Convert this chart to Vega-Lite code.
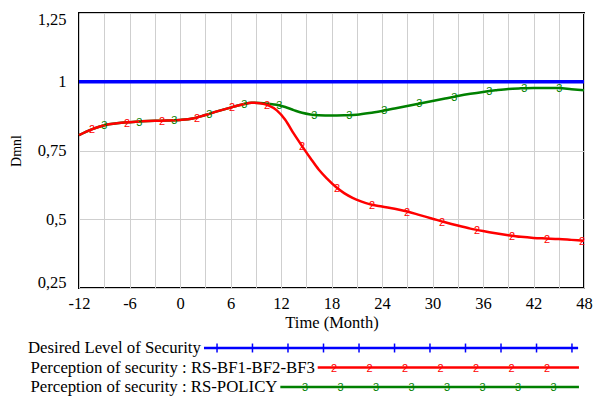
{
  "$schema": "https://vega.github.io/schema/vega-lite/v6.json",
  "padding": {"left": 8, "top": 10, "right": 2, "bottom": 0},
  "bounds": "flush",
  "spacing": 60,
  "config": {
    "font": "Liberation Serif",
    "view": {"stroke": "black", "strokeWidth": 2},
    "axis": {"labelColor": "black", "titleColor": "black", "titleFontWeight": "normal", "domain": false, "ticks": false, "gridColor": "#cfcfcf", "gridWidth": 1, "gridOpacity": 1}
  },
  "datasets": {
    "curves": [
      {"series": "Desired Level of Security", "month": -12, "value": 1.0},
      {"series": "Desired Level of Security", "month": 48, "value": 1.0},
      {"series": "Perception of security : RS-BF1-BF2-BF3", "month": -12, "value": 0.806},
      {"series": "Perception of security : RS-BF1-BF2-BF3", "month": -10.5, "value": 0.827},
      {"series": "Perception of security : RS-BF1-BF2-BF3", "month": -9, "value": 0.842},
      {"series": "Perception of security : RS-BF1-BF2-BF3", "month": -7.5, "value": 0.849},
      {"series": "Perception of security : RS-BF1-BF2-BF3", "month": -6, "value": 0.853},
      {"series": "Perception of security : RS-BF1-BF2-BF3", "month": -4.5, "value": 0.856},
      {"series": "Perception of security : RS-BF1-BF2-BF3", "month": -3, "value": 0.858},
      {"series": "Perception of security : RS-BF1-BF2-BF3", "month": -1.5, "value": 0.859},
      {"series": "Perception of security : RS-BF1-BF2-BF3", "month": 0, "value": 0.861},
      {"series": "Perception of security : RS-BF1-BF2-BF3", "month": 1.5, "value": 0.866},
      {"series": "Perception of security : RS-BF1-BF2-BF3", "month": 3, "value": 0.879},
      {"series": "Perception of security : RS-BF1-BF2-BF3", "month": 4.5, "value": 0.893},
      {"series": "Perception of security : RS-BF1-BF2-BF3", "month": 6, "value": 0.906},
      {"series": "Perception of security : RS-BF1-BF2-BF3", "month": 7.5, "value": 0.918},
      {"series": "Perception of security : RS-BF1-BF2-BF3", "month": 8.5, "value": 0.924},
      {"series": "Perception of security : RS-BF1-BF2-BF3", "month": 9.5, "value": 0.922},
      {"series": "Perception of security : RS-BF1-BF2-BF3", "month": 10.5, "value": 0.914},
      {"series": "Perception of security : RS-BF1-BF2-BF3", "month": 11.5, "value": 0.896},
      {"series": "Perception of security : RS-BF1-BF2-BF3", "month": 12.5, "value": 0.862},
      {"series": "Perception of security : RS-BF1-BF2-BF3", "month": 13.5, "value": 0.812},
      {"series": "Perception of security : RS-BF1-BF2-BF3", "month": 14.5, "value": 0.766},
      {"series": "Perception of security : RS-BF1-BF2-BF3", "month": 15.5, "value": 0.722},
      {"series": "Perception of security : RS-BF1-BF2-BF3", "month": 16.5, "value": 0.680},
      {"series": "Perception of security : RS-BF1-BF2-BF3", "month": 17.5, "value": 0.647},
      {"series": "Perception of security : RS-BF1-BF2-BF3", "month": 18.5, "value": 0.618},
      {"series": "Perception of security : RS-BF1-BF2-BF3", "month": 19.5, "value": 0.595},
      {"series": "Perception of security : RS-BF1-BF2-BF3", "month": 20.5, "value": 0.578},
      {"series": "Perception of security : RS-BF1-BF2-BF3", "month": 21.5, "value": 0.565},
      {"series": "Perception of security : RS-BF1-BF2-BF3", "month": 22.5, "value": 0.555},
      {"series": "Perception of security : RS-BF1-BF2-BF3", "month": 24, "value": 0.546},
      {"series": "Perception of security : RS-BF1-BF2-BF3", "month": 25.5, "value": 0.538},
      {"series": "Perception of security : RS-BF1-BF2-BF3", "month": 27, "value": 0.528},
      {"series": "Perception of security : RS-BF1-BF2-BF3", "month": 28.5, "value": 0.515},
      {"series": "Perception of security : RS-BF1-BF2-BF3", "month": 30, "value": 0.502},
      {"series": "Perception of security : RS-BF1-BF2-BF3", "month": 31.5, "value": 0.489},
      {"series": "Perception of security : RS-BF1-BF2-BF3", "month": 33, "value": 0.477},
      {"series": "Perception of security : RS-BF1-BF2-BF3", "month": 34.5, "value": 0.466},
      {"series": "Perception of security : RS-BF1-BF2-BF3", "month": 36, "value": 0.457},
      {"series": "Perception of security : RS-BF1-BF2-BF3", "month": 37.5, "value": 0.449},
      {"series": "Perception of security : RS-BF1-BF2-BF3", "month": 39, "value": 0.442},
      {"series": "Perception of security : RS-BF1-BF2-BF3", "month": 40.5, "value": 0.436},
      {"series": "Perception of security : RS-BF1-BF2-BF3", "month": 42, "value": 0.432},
      {"series": "Perception of security : RS-BF1-BF2-BF3", "month": 43.5, "value": 0.430},
      {"series": "Perception of security : RS-BF1-BF2-BF3", "month": 45, "value": 0.428},
      {"series": "Perception of security : RS-BF1-BF2-BF3", "month": 46.5, "value": 0.425},
      {"series": "Perception of security : RS-BF1-BF2-BF3", "month": 48, "value": 0.422},
      {"series": "Perception of security : RS-POLICY", "month": -12, "value": 0.806},
      {"series": "Perception of security : RS-POLICY", "month": -10.5, "value": 0.827},
      {"series": "Perception of security : RS-POLICY", "month": -9, "value": 0.842},
      {"series": "Perception of security : RS-POLICY", "month": -7.5, "value": 0.849},
      {"series": "Perception of security : RS-POLICY", "month": -6, "value": 0.853},
      {"series": "Perception of security : RS-POLICY", "month": -4.5, "value": 0.856},
      {"series": "Perception of security : RS-POLICY", "month": -3, "value": 0.858},
      {"series": "Perception of security : RS-POLICY", "month": -1.5, "value": 0.859},
      {"series": "Perception of security : RS-POLICY", "month": 0, "value": 0.861},
      {"series": "Perception of security : RS-POLICY", "month": 1.5, "value": 0.866},
      {"series": "Perception of security : RS-POLICY", "month": 3, "value": 0.879},
      {"series": "Perception of security : RS-POLICY", "month": 4.5, "value": 0.893},
      {"series": "Perception of security : RS-POLICY", "month": 6, "value": 0.906},
      {"series": "Perception of security : RS-POLICY", "month": 7.5, "value": 0.918},
      {"series": "Perception of security : RS-POLICY", "month": 8.5, "value": 0.924},
      {"series": "Perception of security : RS-POLICY", "month": 9.5, "value": 0.923},
      {"series": "Perception of security : RS-POLICY", "month": 10.5, "value": 0.920},
      {"series": "Perception of security : RS-POLICY", "month": 11.5, "value": 0.916},
      {"series": "Perception of security : RS-POLICY", "month": 12.5, "value": 0.908},
      {"series": "Perception of security : RS-POLICY", "month": 13.5, "value": 0.897},
      {"series": "Perception of security : RS-POLICY", "month": 14.5, "value": 0.887},
      {"series": "Perception of security : RS-POLICY", "month": 15.5, "value": 0.881},
      {"series": "Perception of security : RS-POLICY", "month": 16.5, "value": 0.878},
      {"series": "Perception of security : RS-POLICY", "month": 18, "value": 0.877},
      {"series": "Perception of security : RS-POLICY", "month": 19.5, "value": 0.878},
      {"series": "Perception of security : RS-POLICY", "month": 21, "value": 0.880},
      {"series": "Perception of security : RS-POLICY", "month": 22.5, "value": 0.886},
      {"series": "Perception of security : RS-POLICY", "month": 24, "value": 0.894},
      {"series": "Perception of security : RS-POLICY", "month": 25.5, "value": 0.903},
      {"series": "Perception of security : RS-POLICY", "month": 27, "value": 0.912},
      {"series": "Perception of security : RS-POLICY", "month": 28.5, "value": 0.921},
      {"series": "Perception of security : RS-POLICY", "month": 30, "value": 0.930},
      {"series": "Perception of security : RS-POLICY", "month": 31.5, "value": 0.939},
      {"series": "Perception of security : RS-POLICY", "month": 33, "value": 0.948},
      {"series": "Perception of security : RS-POLICY", "month": 34.5, "value": 0.956},
      {"series": "Perception of security : RS-POLICY", "month": 36, "value": 0.963},
      {"series": "Perception of security : RS-POLICY", "month": 37.5, "value": 0.969},
      {"series": "Perception of security : RS-POLICY", "month": 39, "value": 0.974},
      {"series": "Perception of security : RS-POLICY", "month": 40.5, "value": 0.976},
      {"series": "Perception of security : RS-POLICY", "month": 42, "value": 0.977},
      {"series": "Perception of security : RS-POLICY", "month": 43.5, "value": 0.977},
      {"series": "Perception of security : RS-POLICY", "month": 45, "value": 0.977},
      {"series": "Perception of security : RS-POLICY", "month": 46.5, "value": 0.973},
      {"series": "Perception of security : RS-POLICY", "month": 48, "value": 0.969}
    ],
    "markers": [
      {"series": "Perception of security : RS-BF1-BF2-BF3", "glyph": "2", "month": -10.46, "value": 0.827},
      {"series": "Perception of security : RS-BF1-BF2-BF3", "glyph": "2", "month": -6.3, "value": 0.851},
      {"series": "Perception of security : RS-BF1-BF2-BF3", "glyph": "2", "month": -2.14, "value": 0.857},
      {"series": "Perception of security : RS-BF1-BF2-BF3", "glyph": "2", "month": 2.02, "value": 0.868},
      {"series": "Perception of security : RS-BF1-BF2-BF3", "glyph": "2", "month": 6.18, "value": 0.908},
      {"series": "Perception of security : RS-BF1-BF2-BF3", "glyph": "2", "month": 10.34, "value": 0.916},
      {"series": "Perception of security : RS-BF1-BF2-BF3", "glyph": "2", "month": 14.49, "value": 0.766},
      {"series": "Perception of security : RS-BF1-BF2-BF3", "glyph": "2", "month": 18.65, "value": 0.613},
      {"series": "Perception of security : RS-BF1-BF2-BF3", "glyph": "2", "month": 22.81, "value": 0.552},
      {"series": "Perception of security : RS-BF1-BF2-BF3", "glyph": "2", "month": 26.97, "value": 0.528},
      {"series": "Perception of security : RS-BF1-BF2-BF3", "glyph": "2", "month": 31.13, "value": 0.49},
      {"series": "Perception of security : RS-BF1-BF2-BF3", "glyph": "2", "month": 35.29, "value": 0.461},
      {"series": "Perception of security : RS-BF1-BF2-BF3", "glyph": "2", "month": 39.45, "value": 0.44},
      {"series": "Perception of security : RS-BF1-BF2-BF3", "glyph": "2", "month": 43.6, "value": 0.43},
      {"series": "Perception of security : RS-BF1-BF2-BF3", "glyph": "2", "month": 47.76, "value": 0.422},
      {"series": "Perception of security : RS-POLICY", "glyph": "3", "month": -8.99, "value": 0.842},
      {"series": "Perception of security : RS-POLICY", "glyph": "3", "month": -4.84, "value": 0.855},
      {"series": "Perception of security : RS-POLICY", "glyph": "3", "month": -0.68, "value": 0.86},
      {"series": "Perception of security : RS-POLICY", "glyph": "3", "month": 3.48, "value": 0.884},
      {"series": "Perception of security : RS-POLICY", "glyph": "3", "month": 7.64, "value": 0.919},
      {"series": "Perception of security : RS-POLICY", "glyph": "3", "month": 11.8, "value": 0.915},
      {"series": "Perception of security : RS-POLICY", "glyph": "3", "month": 15.96, "value": 0.879},
      {"series": "Perception of security : RS-POLICY", "glyph": "3", "month": 20.11, "value": 0.879},
      {"series": "Perception of security : RS-POLICY", "glyph": "3", "month": 24.27, "value": 0.896},
      {"series": "Perception of security : RS-POLICY", "glyph": "3", "month": 28.43, "value": 0.921},
      {"series": "Perception of security : RS-POLICY", "glyph": "3", "month": 32.59, "value": 0.946},
      {"series": "Perception of security : RS-POLICY", "glyph": "3", "month": 36.75, "value": 0.966},
      {"series": "Perception of security : RS-POLICY", "glyph": "3", "month": 40.91, "value": 0.976},
      {"series": "Perception of security : RS-POLICY", "glyph": "3", "month": 45.07, "value": 0.977}
    ],
    "legendRows": [
      {"series": "Desired Level of Security", "row": 1, "textEnd": 2.6, "start": 2.85, "end": 47.3},
      {"series": "Perception of security : RS-BF1-BF2-BF3", "row": 2, "textEnd": 16.15, "start": 16.36, "end": 47.4},
      {"series": "Perception of security : RS-POLICY", "row": 3, "textEnd": 11.7, "start": 11.92, "end": 47.4}
    ],
    "legendTicks": [
      {"series": "Desired Level of Security", "row": 1, "month": 4.4},
      {"series": "Desired Level of Security", "row": 1, "month": 8.61},
      {"series": "Desired Level of Security", "row": 1, "month": 12.83},
      {"series": "Desired Level of Security", "row": 1, "month": 17.05},
      {"series": "Desired Level of Security", "row": 1, "month": 21.27},
      {"series": "Desired Level of Security", "row": 1, "month": 25.49},
      {"series": "Desired Level of Security", "row": 1, "month": 29.7},
      {"series": "Desired Level of Security", "row": 1, "month": 33.92},
      {"series": "Desired Level of Security", "row": 1, "month": 38.14},
      {"series": "Desired Level of Security", "row": 1, "month": 42.36},
      {"series": "Desired Level of Security", "row": 1, "month": 46.57}
    ],
    "legendGlyphs": [
      {"series": "Perception of security : RS-BF1-BF2-BF3", "row": 2, "glyph": "2", "month": 18.3},
      {"series": "Perception of security : RS-BF1-BF2-BF3", "row": 2, "glyph": "2", "month": 22.52},
      {"series": "Perception of security : RS-BF1-BF2-BF3", "row": 2, "glyph": "2", "month": 26.73},
      {"series": "Perception of security : RS-BF1-BF2-BF3", "row": 2, "glyph": "2", "month": 30.95},
      {"series": "Perception of security : RS-BF1-BF2-BF3", "row": 2, "glyph": "2", "month": 35.17},
      {"series": "Perception of security : RS-BF1-BF2-BF3", "row": 2, "glyph": "2", "month": 39.39},
      {"series": "Perception of security : RS-BF1-BF2-BF3", "row": 2, "glyph": "2", "month": 43.6},
      {"series": "Perception of security : RS-POLICY", "row": 3, "glyph": "3", "month": 14.85},
      {"series": "Perception of security : RS-POLICY", "row": 3, "glyph": "3", "month": 19.07},
      {"series": "Perception of security : RS-POLICY", "row": 3, "glyph": "3", "month": 23.29},
      {"series": "Perception of security : RS-POLICY", "row": 3, "glyph": "3", "month": 27.51},
      {"series": "Perception of security : RS-POLICY", "row": 3, "glyph": "3", "month": 31.72},
      {"series": "Perception of security : RS-POLICY", "row": 3, "glyph": "3", "month": 35.94},
      {"series": "Perception of security : RS-POLICY", "row": 3, "glyph": "3", "month": 40.16},
      {"series": "Perception of security : RS-POLICY", "row": 3, "glyph": "3", "month": 44.38}
    ]
  },
  "vconcat": [
    {
      "width": 505,
      "height": 275,
      "encoding": {
        "x": {"field": "month", "type": "quantitative",
          "scale": {"domain": [-12, 48], "nice": false, "zero": false},
          "axis": {"title": "Time (Month)", "values": [-12, -9, -6, -3, 0, 3, 6, 9, 12, 15, 18, 21, 24, 27, 30, 33, 36, 39, 42, 45, 48],
            "labelExpr": "datum.value % 6 === 0 ? '' + datum.value : ''", "labelFont": "Liberation Serif", "titleFont": "Liberation Serif", "labelFontSize": 16.5, "titleFontSize": 16.5, "labelPadding": 7, "titlePadding": 3, "labelFlush": false}},
        "y": {"field": "value", "type": "quantitative",
          "scale": {"domain": [0.25, 1.25], "nice": false, "zero": false},
          "axis": {"title": "Dmnl", "values": [0.25, 0.5, 0.75, 1, 1.25],
            "labelExpr": "replace('' + datum.value, '.', ',')", "labelFont": "Liberation Serif", "titleFont": "Liberation Serif", "labelFontSize": 16.5, "titleFontSize": 14, "labelPadding": 13, "titlePadding": 14, "labelFlush": true, "labelFlushOffset": 2}},
        "color": {"field": "series", "type": "nominal",
          "scale": {"domain": ["Desired Level of Security", "Perception of security : RS-BF1-BF2-BF3", "Perception of security : RS-POLICY"], "range": ["#0000ff", "#ff0000", "#008000"]},
          "legend": null}
      },
      "layer": [
        {"data": {"name": "curves"}, "transform": [{"filter": "datum.series === 'Desired Level of Security'"}],
          "mark": {"type": "line", "strokeWidth": 3.5}},
        {"data": {"name": "curves"}, "transform": [{"filter": "datum.series === 'Perception of security : RS-POLICY'"}],
          "mark": {"type": "line", "strokeWidth": 2.5, "interpolate": "monotone"}},
        {"data": {"name": "curves"}, "transform": [{"filter": "datum.series === 'Perception of security : RS-BF1-BF2-BF3'"}],
          "mark": {"type": "line", "strokeWidth": 2.5, "interpolate": "monotone"}},
        {"data": {"name": "markers"},
          "mark": {"type": "text", "font": "Liberation Sans", "fontSize": 11, "baseline": "middle", "align": "center", "dy": 1},
          "encoding": {"text": {"field": "glyph"}}}
      ]
    },
    {
      "width": 505,
      "height": 39,
      "view": {"stroke": null},
      "encoding": {
        "y": {"field": "row", "type": "quantitative", "scale": {"domain": [1, 3], "reverse": true, "nice": false, "zero": false}, "axis": null},
        "color": {"field": "series", "type": "nominal",
          "scale": {"domain": ["Desired Level of Security", "Perception of security : RS-BF1-BF2-BF3", "Perception of security : RS-POLICY"], "range": ["#0000ff", "#ff0000", "#008000"]},
          "legend": null}
      },
      "layer": [
        {"data": {"name": "legendRows"},
          "mark": {"type": "rule", "strokeWidth": 2.5},
          "encoding": {
            "x": {"field": "start", "type": "quantitative", "scale": {"domain": [-12, 48], "nice": false, "zero": false}, "axis": null},
            "x2": {"field": "end"}}},
        {"data": {"name": "legendRows"},
          "mark": {"type": "text", "align": "right", "baseline": "middle", "font": "Liberation Serif", "fontSize": 16.8, "dx": -1, "dy": 0},
          "encoding": {
            "x": {"field": "textEnd", "type": "quantitative"},
            "text": {"field": "series"},
            "color": {"value": "black"}}},
        {"data": {"name": "legendTicks"},
          "mark": {"type": "point", "shape": "M0,-1L0,1", "filled": false, "size": 80, "strokeWidth": 1.5, "opacity": 1},
          "encoding": {"x": {"field": "month", "type": "quantitative"}}},
        {"data": {"name": "legendGlyphs"},
          "mark": {"type": "text", "font": "Liberation Sans", "fontSize": 11, "baseline": "middle", "align": "center", "dy": 1},
          "encoding": {"x": {"field": "month", "type": "quantitative"}, "text": {"field": "glyph"}}}
      ]
    }
  ]
}
